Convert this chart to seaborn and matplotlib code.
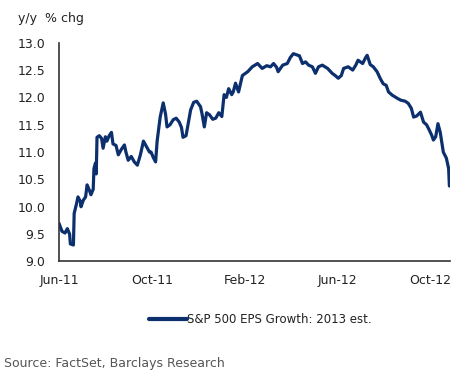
import matplotlib
matplotlib.use("Agg")
import matplotlib.pyplot as plt
import matplotlib.dates as mdates
import pandas as pd
import seaborn as sns

dates = [
    "2011-06-01", "2011-06-05", "2011-06-09", "2011-06-12", "2011-06-15", "2011-06-16",
    "2011-06-20", "2011-06-21", "2011-06-24", "2011-06-26", "2011-06-29", "2011-06-30",
    "2011-07-03", "2011-07-06", "2011-07-08", "2011-07-11", "2011-07-13", "2011-07-16",
    "2011-07-17", "2011-07-19", "2011-07-20", "2011-07-21", "2011-07-24", "2011-07-27",
    "2011-07-29", "2011-08-01", "2011-08-03", "2011-08-06", "2011-08-09", "2011-08-11",
    "2011-08-15", "2011-08-18", "2011-08-22", "2011-08-26", "2011-08-28", "2011-08-31",
    "2011-09-04", "2011-09-08", "2011-09-12", "2011-09-16", "2011-09-20", "2011-09-24",
    "2011-09-28", "2011-09-30", "2011-10-03", "2011-10-06", "2011-10-08", "2011-10-12",
    "2011-10-16", "2011-10-19", "2011-10-21", "2011-10-25", "2011-10-29", "2011-11-02",
    "2011-11-06", "2011-11-09", "2011-11-11", "2011-11-15", "2011-11-21", "2011-11-25",
    "2011-11-29", "2011-12-04", "2011-12-06", "2011-12-09", "2011-12-12", "2011-12-16",
    "2011-12-20", "2011-12-24", "2011-12-28", "2012-01-01", "2012-01-04", "2012-01-07",
    "2012-01-10", "2012-01-14", "2012-01-16", "2012-01-19", "2012-01-23", "2012-01-28",
    "2012-02-04", "2012-02-10", "2012-02-17", "2012-02-23", "2012-02-29", "2012-03-05",
    "2012-03-09", "2012-03-13", "2012-03-15", "2012-03-21", "2012-03-27", "2012-03-31",
    "2012-04-04", "2012-04-08", "2012-04-12", "2012-04-16", "2012-04-20", "2012-04-24",
    "2012-04-29", "2012-05-03", "2012-05-07", "2012-05-12", "2012-05-19", "2012-05-25",
    "2012-05-29", "2012-06-02", "2012-06-06", "2012-06-09", "2012-06-15", "2012-06-21",
    "2012-06-25", "2012-06-28", "2012-07-04", "2012-07-08", "2012-07-10", "2012-07-14",
    "2012-07-18", "2012-07-23", "2012-07-27", "2012-07-31", "2012-08-04", "2012-08-07",
    "2012-08-12", "2012-08-19", "2012-08-23", "2012-08-29", "2012-09-02", "2012-09-06",
    "2012-09-09", "2012-09-13", "2012-09-18", "2012-09-22", "2012-09-26", "2012-09-29",
    "2012-10-03", "2012-10-05", "2012-10-08", "2012-10-11", "2012-10-14", "2012-10-18",
    "2012-10-22", "2012-10-25", "2012-10-26",
]

eps_growth = [
    9.70, 9.55, 9.52, 9.60, 9.50, 9.32,
    9.30, 9.88, 10.05, 10.18, 10.10, 10.00,
    10.12, 10.18, 10.40, 10.30, 10.22, 10.32,
    10.70, 10.80, 10.60, 11.27, 11.30, 11.25,
    11.07, 11.28, 11.20, 11.30, 11.36, 11.15,
    11.12, 10.95, 11.05, 11.13, 11.00, 10.85,
    10.92, 10.82, 10.76, 10.95, 11.20, 11.10,
    11.00, 11.00, 10.90, 10.82, 11.20, 11.64,
    11.90, 11.70, 11.46, 11.50, 11.59, 11.62,
    11.55, 11.45, 11.27, 11.30, 11.77, 11.91,
    11.93, 11.83, 11.70, 11.46, 11.72, 11.68,
    11.60, 11.62, 11.72, 11.65, 12.05, 12.00,
    12.16, 12.05, 12.10, 12.26, 12.10, 12.40,
    12.47, 12.56, 12.62, 12.53, 12.58, 12.56,
    12.62, 12.55, 12.47, 12.59, 12.62, 12.73,
    12.80, 12.78, 12.76, 12.62, 12.65, 12.59,
    12.56, 12.44, 12.56, 12.59, 12.53, 12.44,
    12.40, 12.35, 12.40, 12.53, 12.56, 12.50,
    12.59, 12.68, 12.62, 12.73, 12.77, 12.60,
    12.56, 12.47, 12.35, 12.25, 12.22, 12.10,
    12.04, 11.98, 11.95, 11.93, 11.89, 11.80,
    11.64, 11.66, 11.73, 11.55, 11.50, 11.42,
    11.30, 11.22, 11.28, 11.52, 11.36, 11.00,
    10.89, 10.70, 10.38,
]

series_label = "S&P 500 EPS Growth: 2013 est."
tick_dates = ["2011-06-01", "2011-10-01", "2012-02-01", "2012-06-01", "2012-10-01"]
y_ticks = [9.0, 9.5, 10.0, 10.5, 11.0, 11.5, 12.0, 12.5, 13.0]

df = pd.DataFrame({"date": pd.to_datetime(dates), "value": eps_growth})

sns.set_style("white")
plt.rcParams["font.family"] = ["DejaVu Sans"]

fig = plt.figure(figsize=(4.57, 3.85), dpi=100)
ax = fig.add_axes([0.129, 0.321, 0.856, 0.568])

line_color = "#0c2f6e"
sns.lineplot(data=df, x="date", y="value", ax=ax, color=line_color,
             linewidth=2.3, label=series_label)

ax.set_ylim(9.0, 13.0)
ax.set_xlim(pd.Timestamp("2011-06-01"), pd.Timestamp("2012-10-27"))
ax.set_yticks(y_ticks)
ax.set_yticklabels([f"{v:.1f}" for v in y_ticks])
ax.set_xticks(pd.to_datetime(tick_dates))
ax.xaxis.set_major_formatter(mdates.DateFormatter("%b-%y"))
ax.set_xlabel("")
ax.set_ylabel("")

for side in ["top", "right"]:
    ax.spines[side].set_visible(False)
for side in ["left", "bottom"]:
    ax.spines[side].set_color("#333333")
    ax.spines[side].set_linewidth(1.2)

ax.tick_params(axis="both", which="major", direction="out", length=4, width=1,
               color="#333333", labelsize=9, labelcolor="#222222", pad=3)
ax.tick_params(axis="y", pad=6)
ax.tick_params(axis="x", pad=5)

leg = ax.legend(loc="center", bbox_to_anchor=(0.57, 0.169),
                bbox_transform=fig.transFigure, frameon=False, fontsize=8.5,
                handlelength=3.2, handletextpad=0.0)
for h in leg.get_lines():
    h.set_linewidth(3)
for t in leg.get_texts():
    t.set_color("#222222")

fig.text(0.04, 0.97, "y/y  % chg", fontsize=9, color="#222222", va="top", ha="left")
fig.text(0.009, 0.055, "Source: FactSet, Barclays Research", fontsize=9,
         color="#555555", va="center", ha="left")

fig.savefig("out.png", dpi=100)
